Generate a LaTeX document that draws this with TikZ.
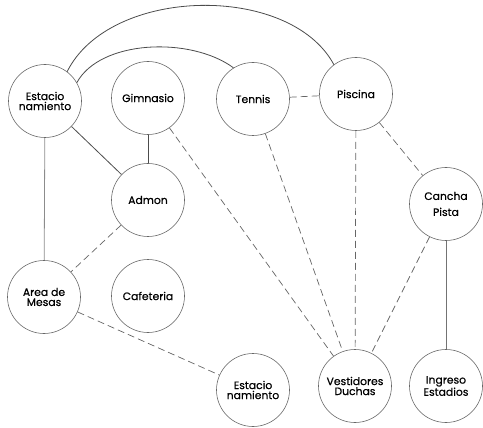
\documentclass[tikz,border=0pt]{standalone}
\usepackage{fontspec}
\setmainfont[FakeBold=0.5]{Poppins}
\begin{document}
\begin{tikzpicture}[x=1pt,y=-1pt,
  place/.style={circle,draw=black!60,line width=0.6pt,minimum size=73pt,inner sep=0pt,align=center,font=\fontsize{10.8}{10}\selectfont},
  solidlink/.style={draw=black!70,line width=0.8pt},
  dashlink/.style={draw=black!60,line width=0.7pt,dash pattern=on 7pt off 4pt}]
\useasboundingbox (0,0) rectangle (483,428);
\node[place] (e1) at (45,101) {Estacio\\namiento};
\node[place] (gim) at (148,98) {Gimnasio};
\node[place] (ten) at (253,99) {Tennis};
\node[place] (pis) at (356,94) {Piscina};
\node[place] (adm) at (148,200) {Admon};
\node[place] (can) at (446,204) {Cancha\\[6pt]Pista};
\node[place] (area) at (44,297) {Area de\\Mesas};
\node[place] (caf) at (148,296) {Cafeteria};
\node[place] (e2) at (253,390) {Estacio\\namiento};
\node[place] (ves) at (355,386) {Vestidores\\Duchas};
\node[place] (ing) at (446,386) {Ingreso\\Estadios};
% solid
\draw[solidlink] (e1.53) .. controls (110,-14) and (290,-17) .. (pis.127);
\draw[solidlink] (e1.30) .. controls (100,40) and (190,36) .. (ten.122);
\draw[solidlink] (e1) -- (adm);
\draw[solidlink,draw=black!45] (e1) -- (area);
\draw[solidlink] (gim) -- (adm);
\draw[solidlink,draw=black!55,line width=1pt] (can) -- (ing);
% dashed
\draw[dashlink] (ten) -- (pis);
\draw[dashlink] (gim) -- (ves);
\draw[dashlink] (ten) -- (ves);
\draw[dashlink] (pis) -- (ves);
\draw[dashlink] (pis) -- (can);
\draw[dashlink] (can) -- (ves);
\draw[dashlink] (adm) -- (area);
\draw[dashlink] (area) -- (e2);
\end{tikzpicture}
\end{document}
